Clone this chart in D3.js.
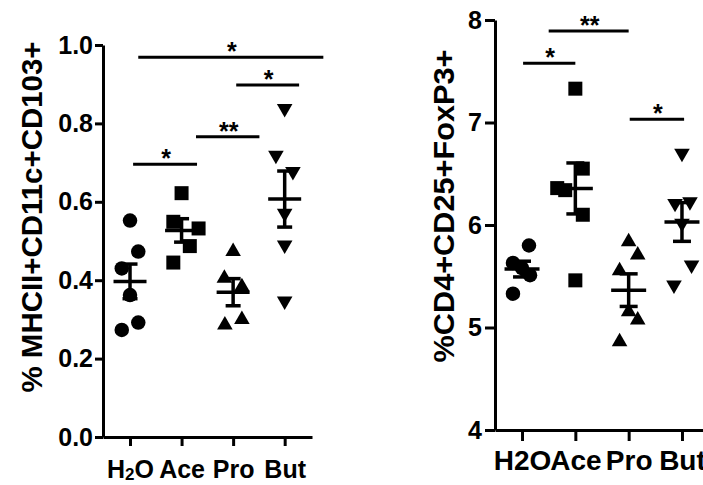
<!DOCTYPE html>
<html>
<head>
<meta charset="utf-8">
<script src="https://cdn.jsdelivr.net/npm/d3@7"></script>
<style>
  body { margin: 0; background: #fff; }
  text { font-family: "Liberation Sans", Arial, sans-serif; font-weight: bold; fill: #000; }
</style>
</head>
<body>
<svg id="chart"></svg>
<script>
const GROUPS = ['H2O', 'Ace', 'Pro', 'But'];

// left panel: % MHCII+CD11c+CD103+
const MHC_TICKS = [0, 0.2, 0.4, 0.6, 0.8, 1.0];
const MHC_H2O = [0.552, 0.473, 0.430, 0.362, 0.292, 0.273];
const MHC_ACE = [0.622, 0.549, 0.532, 0.487, 0.445];
const MHC_PRO = [0.473, 0.405, 0.383, 0.286, 0.300];
const MHC_BUT = [0.838, 0.719, 0.677, 0.571, 0.490, 0.347];
// horizontal scatter of each dot, in group units
const MHC_H2O_JIT = [0, 0.16, -0.16, 0, 0.16, -0.16];
const MHC_ACE_JIT = [0, -0.16, 0.33, 0.16, -0.16];
const MHC_PRO_JIT = [0, -0.17, 0.17, -0.16, 0.17];
const MHC_BUT_JIT = [0, -0.17, 0.16, 0, 0, 0];
// significance lines: from group, to group, level, label
const MHC_SIG_FROM = [0.06, 1.28, 2.06, 0.16];
const MHC_SIG_TO = [1.30, 2.51, 3.28, 3.75];
const MHC_SIG_LEVEL = [0.696, 0.766, 0.898, 0.969];
const MHC_SIG_LABEL = ['*', '**', '*', '*'];

// right panel: %CD4+CD25+FoxP3+
const TREG_TICKS = [4, 5, 6, 7, 8];
const TREG_H2O = [5.80, 5.63, 5.58, 5.51, 5.33];
const TREG_ACE = [7.33, 6.55, 6.36, 6.34, 6.10, 5.46];
const TREG_PRO = [5.837, 5.707, 5.554, 5.154, 5.073, 4.862];
const TREG_BUT = [6.699, 6.211, 6.227, 6.016, 5.61, 5.415];
const TREG_H2O_JIT = [0.13, -0.17, 0, 0.15, -0.17];
const TREG_ACE_JIT = [0, 0.14, -0.34, -0.19, 0.14, 0];
const TREG_PRO_JIT = [0, 0.17, -0.17, 0, 0.17, -0.17];
const TREG_BUT_JIT = [0, -0.13, 0.15, 0, 0.18, -0.15];
const TREG_SIG_FROM = [0.02, 0.5, 2.02];
const TREG_SIG_TO = [1.0, 2.0, 3.04];
const TREG_SIG_LEVEL = [7.578, 7.893, 7.031];
const TREG_SIG_LABEL = ['*', '**', '*'];

const SHAPES = [d3.symbolCircle, d3.symbolSquare, d3.symbolTriangle, d3.symbolTriangle];
const SHAPE_SIZE = [165, 196, 105, 105];
const SHAPE_ROT = [0, 0, 0, 180];

const svg = d3.select('#chart').attr('width', 703).attr('height', 485);

function drawPanel(cfg) {
    const g = svg.append('g');
    const x = d3.scaleLinear().domain(cfg.xDomain).range(cfg.xRange);
    const y = d3.scaleLinear().domain(cfg.yDomain).range(cfg.yRange);

    // y axis
    const yAxis = g.append('g')
        .attr('transform', `translate(${cfg.xRange[0]},0)`)
        .call(d3.axisLeft(y).tickValues(cfg.yTicks).tickFormat(cfg.yFormat)
            .tickSize(cfg.tickLen).tickSizeOuter(0).tickPadding(cfg.yPad));
    yAxis.selectAll('path, line').attr('stroke', '#000').attr('stroke-width', 3);
    yAxis.selectAll('text').style('font-size', cfg.yFont + 'px')
        .style('font-family', '"Liberation Sans", Arial, sans-serif').style('font-weight', 'bold');

    // x axis
    const xAxis = g.append('g')
        .attr('transform', `translate(0,${cfg.yRange[0]})`)
        .call(d3.axisBottom(x).tickValues([0, 1, 2, 3]).tickFormat(i => GROUPS[i])
            .tickSize(cfg.xTickLen).tickSizeOuter(0).tickPadding(cfg.xPad));
    xAxis.selectAll('path, line').attr('stroke', '#000').attr('stroke-width', 3);
    xAxis.selectAll('text').style('font-size', cfg.xFont + 'px')
        .style('font-family', '"Liberation Sans", Arial, sans-serif').style('font-weight', 'bold');
    if (cfg.subscript) {
        xAxis.selectAll('text').filter(d => GROUPS[d] === 'H2O').each(function () {
            const t = d3.select(this).text('');
            t.append('tspan').text('H');
            t.append('tspan').text('2').style('font-size', '17px').attr('dy', 2);
            t.append('tspan').text('O').attr('dy', -2);
        });
    }

    // y title
    g.append('text')
        .attr('transform', `translate(${cfg.titleX},${cfg.titleY}) rotate(-90)`)
        .attr('text-anchor', 'middle')
        .style('font-size', cfg.titleFont + 'px')
        .attr('textLength', cfg.titleLen)
        .attr('lengthAdjust', 'spacingAndGlyphs')
        .text(cfg.title);

    // dots
    cfg.values.forEach((vals, gi) => {
        const sym = d3.symbol().type(SHAPES[gi]).size(SHAPE_SIZE[gi]);
        g.selectAll('.dot' + gi)
            .data(vals.map((v, k) => ({v, j: cfg.jitter[gi][k]})))
            .enter().append('path')
            .attr('class', 'dot' + gi)
            .attr('d', sym)
            .attr('fill', '#000')
            .attr('transform', d => `translate(${x(gi + d.j)},${y(d.v)}) rotate(${SHAPE_ROT[gi]})`);

        // mean and SEM
        const m = d3.mean(vals);
        const sem = d3.deviation(vals) / Math.sqrt(vals.length);
        const cx = x(gi);
        g.append('line').attr('x1', cx).attr('x2', cx)
            .attr('y1', y(m - sem)).attr('y2', y(m + sem))
            .attr('stroke', '#000').attr('stroke-width', 3.5);
        [m - sem, m + sem].forEach(v => {
            g.append('line').attr('x1', cx - cfg.capW / 2).attr('x2', cx + cfg.capW / 2)
                .attr('y1', y(v)).attr('y2', y(v))
                .attr('stroke', '#000').attr('stroke-width', 3.5);
        });
        g.append('line').attr('x1', cx - cfg.meanW / 2).attr('x2', cx + cfg.meanW / 2)
            .attr('y1', y(m)).attr('y2', y(m))
            .attr('stroke', '#000').attr('stroke-width', 3.5);
    });

    // significance lines
    cfg.sigFrom.forEach((f, i) => {
        const t = cfg.sigTo[i];
        const ly = y(cfg.sigLevel[i]);
        g.append('line').attr('x1', x(f)).attr('x2', x(t))
            .attr('y1', ly).attr('y2', ly)
            .attr('stroke', '#000').attr('stroke-width', 3);
        g.append('text')
            .attr('x', (x(f) + x(t)) / 2 + 1)
            .attr('y', ly + 3)
            .attr('text-anchor', 'middle')
            .style('font-size', '25px')
            .text(cfg.sigLabel[i]);
    });
}

drawPanel({
    xDomain: [-0.524, 3.53], xRange: [103, 312],
    yDomain: [0, 1], yRange: [437, 45],
    yTicks: MHC_TICKS, yFormat: d3.format('.1f'),
    tickLen: 8, yPad: 2, yFont: 25,
    xTickLen: 9, xPad: 14, xFont: 25, subscript: true,
    title: '% MHCII+CD11c+CD103+', titleX: 42, titleY: 217, titleFont: 29, titleLen: 351,
    values: [MHC_H2O, MHC_ACE, MHC_PRO, MHC_BUT],
    jitter: [MHC_H2O_JIT, MHC_ACE_JIT, MHC_PRO_JIT, MHC_BUT_JIT],
    capW: 15, meanW: 33,
    sigFrom: MHC_SIG_FROM, sigTo: MHC_SIG_TO, sigLevel: MHC_SIG_LEVEL, sigLabel: MHC_SIG_LABEL
});

drawPanel({
    xDomain: [-0.507, 3.507], xRange: [495, 709],
    yDomain: [4, 8], yRange: [430, 20],
    yTicks: TREG_TICKS, yFormat: d3.format('d'),
    tickLen: 10, yPad: 3, yFont: 25,
    xTickLen: 11, xPad: 9, xFont: 28, subscript: false,
    title: '%CD4+CD25+FoxP3+', titleX: 454, titleY: 206, titleFont: 30, titleLen: 313,
    values: [TREG_H2O, TREG_ACE, TREG_PRO, TREG_BUT],
    jitter: [TREG_H2O_JIT, TREG_ACE_JIT, TREG_PRO_JIT, TREG_BUT_JIT],
    capW: 18, meanW: 35,
    sigFrom: TREG_SIG_FROM, sigTo: TREG_SIG_TO, sigLevel: TREG_SIG_LEVEL, sigLabel: TREG_SIG_LABEL
});
</script>
</body>
</html>
